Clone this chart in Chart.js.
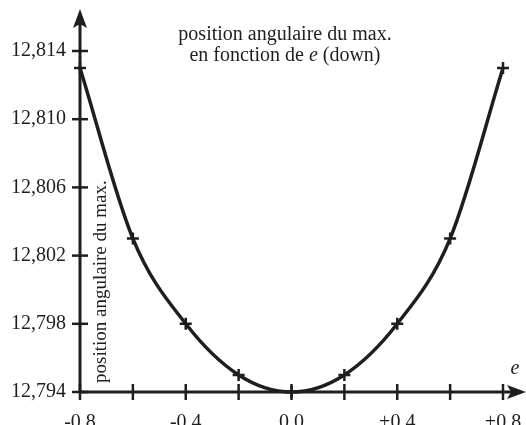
<!DOCTYPE html>
<html>
<head>
<meta charset="utf-8">
<script src="https://cdn.jsdelivr.net/npm/chart.js@4/dist/chart.umd.min.js"></script>
<style>
  html, body { margin: 0; padding: 0; background: #fff; }
  #wrap { width: 526px; height: 425px; }
</style>
</head>
<body>
<div id="wrap"><canvas id="maxChart"></canvas></div>
<script>
// excentricity e and angular position of the maximum
var eValues = [-0.8, -0.6, -0.4, -0.2, 0.0, 0.2, 0.4, 0.6, 0.8];
var maxPositions = [12.813, 12.803, 12.798, 12.795, 12.794, 12.795, 12.798, 12.803, 12.813];

var xTicks = [-0.8, -0.6, -0.4, -0.2, 0.0, 0.2, 0.4, 0.6, 0.8];
var xTickLabels = { '-0.8': '-0.8', '-0.4': '-0.4', '0': '0.0', '0.4': '+0.4', '0.8': '+0.8' };
var yTicks = [12.794, 12.798, 12.802, 12.806, 12.810, 12.814];

var ink = '#1e1e1e';
var serif = '"Liberation Serif", "DejaVu Serif", serif';

// axes with arrows, crossing ticks, title and axis names
var axesPlugin = {
    id: 'axesPlugin',
    afterDatasetsDraw: function (chart) {
        var c = chart.ctx;
        var xs = chart.scales.x, ys = chart.scales.y;
        var x0 = xs.getPixelForValue(-0.8);
        var y0 = ys.getPixelForValue(12.794);
        c.save();
        c.strokeStyle = ink;
        c.fillStyle = ink;
        c.lineWidth = 3;
        // y axis
        c.beginPath();
        c.moveTo(x0, y0);
        c.lineTo(x0, 22);
        c.stroke();
        c.beginPath();
        c.moveTo(x0, 9);
        c.lineTo(x0 - 7, 28);
        c.lineTo(x0, 24);
        c.lineTo(x0 + 7, 28);
        c.closePath();
        c.fill();
        // x axis
        c.beginPath();
        c.moveTo(x0, y0);
        c.lineTo(512, y0);
        c.stroke();
        c.beginPath();
        c.moveTo(526, y0);
        c.lineTo(507, y0 - 7);
        c.lineTo(511, y0);
        c.lineTo(507, y0 + 7);
        c.closePath();
        c.fill();
        // ticks
        c.lineWidth = 2.5;
        xTicks.forEach(function (v) {
            var px = xs.getPixelForValue(v);
            c.beginPath();
            c.moveTo(px, y0 - 8);
            c.lineTo(px, y0 + 8);
            c.stroke();
        });
        yTicks.forEach(function (v) {
            var py = ys.getPixelForValue(v);
            c.beginPath();
            c.moveTo(x0 - 8, py);
            c.lineTo(x0 + 8, py);
            c.stroke();
        });
        // title
        c.textAlign = 'center';
        c.textBaseline = 'middle';
        c.font = '20px ' + serif;
        c.fillText('position angulaire du max.', 285, 35);
        var l1 = 'en fonction de ', l2 = 'e', l3 = ' (down)';
        var w1 = c.measureText(l1).width, w3 = c.measureText(l3).width;
        c.font = 'italic 20px ' + serif;
        var w2 = c.measureText(l2).width;
        var sx = 285 - (w1 + w2 + w3) / 2;
        c.textAlign = 'left';
        c.font = '20px ' + serif;
        c.fillText(l1, sx, 56);
        c.font = 'italic 20px ' + serif;
        c.fillText(l2, sx + w1, 56);
        c.font = '20px ' + serif;
        c.fillText(l3, sx + w1 + w2, 56);
        // axis name e
        c.font = 'italic 20px ' + serif;
        c.textAlign = 'center';
        c.fillText('e', 515, 369);
        // y axis name, rotated inside the plot
        c.translate(101, 383);
        c.rotate(-Math.PI / 2);
        c.textAlign = 'left';
        c.font = '19px ' + serif;
        c.fillText('position angulaire du max.', 0, 0);
        c.restore();
    }
};

var ctx = document.getElementById('maxChart').getContext('2d');

var maxChart = new Chart(ctx, {
    type: 'line',
    data: {
        datasets: [{
            label: 'position angulaire du max.',
            data: eValues.map(function (e, i) { return { x: e, y: maxPositions[i] }; }),
            borderColor: ink,
            borderWidth: 3.5,
            cubicInterpolationMode: 'monotone',
            pointStyle: 'cross',
            pointRadius: 6,
            pointBorderWidth: 2.5,
            pointBorderColor: ink,
            pointBackgroundColor: ink,
            clip: false
        }]
    },
    options: {
        responsive: true,
        maintainAspectRatio: false,
        animation: false,
        layout: { padding: { top: 51, right: 23, left: 0, bottom: 0 } },
        plugins: {
            legend: { display: false },
            tooltip: { enabled: false }
        },
        scales: {
            x: {
                type: 'linear',
                min: -0.8,
                max: 0.8,
                afterBuildTicks: function (scale) {
                    scale.ticks = xTicks.map(function (v) { return { value: v }; });
                },
                afterFit: function (scale) {
                    scale.height = 33;
                    scale.paddingLeft = 0;
                    scale.paddingRight = 0;
                },
                grid: { display: false, drawTicks: false },
                border: { display: false },
                ticks: {
                    padding: 19,
                    autoSkip: false,
                    maxRotation: 0,
                    color: ink,
                    font: { family: serif, size: 20 },
                    callback: function (v) {
                        var k = String(Math.round(v * 10) / 10);
                        return xTickLabels[k] || '';
                    }
                }
            },
            y: {
                type: 'linear',
                min: 12.794,
                max: 12.814,
                afterBuildTicks: function (scale) {
                    scale.ticks = yTicks.map(function (v) { return { value: v }; });
                },
                afterFit: function (scale) {
                    scale.width = 80;
                    scale.paddingTop = 0;
                    scale.paddingBottom = 0;
                },
                grid: { display: false, drawTicks: false },
                border: { display: false },
                ticks: {
                    padding: 14,
                    color: ink,
                    font: { family: serif, size: 20 },
                    callback: function (v) { return v.toFixed(3).replace('.', ','); }
                }
            }
        }
    },
    plugins: [axesPlugin]
});
</script>
</body>
</html>
